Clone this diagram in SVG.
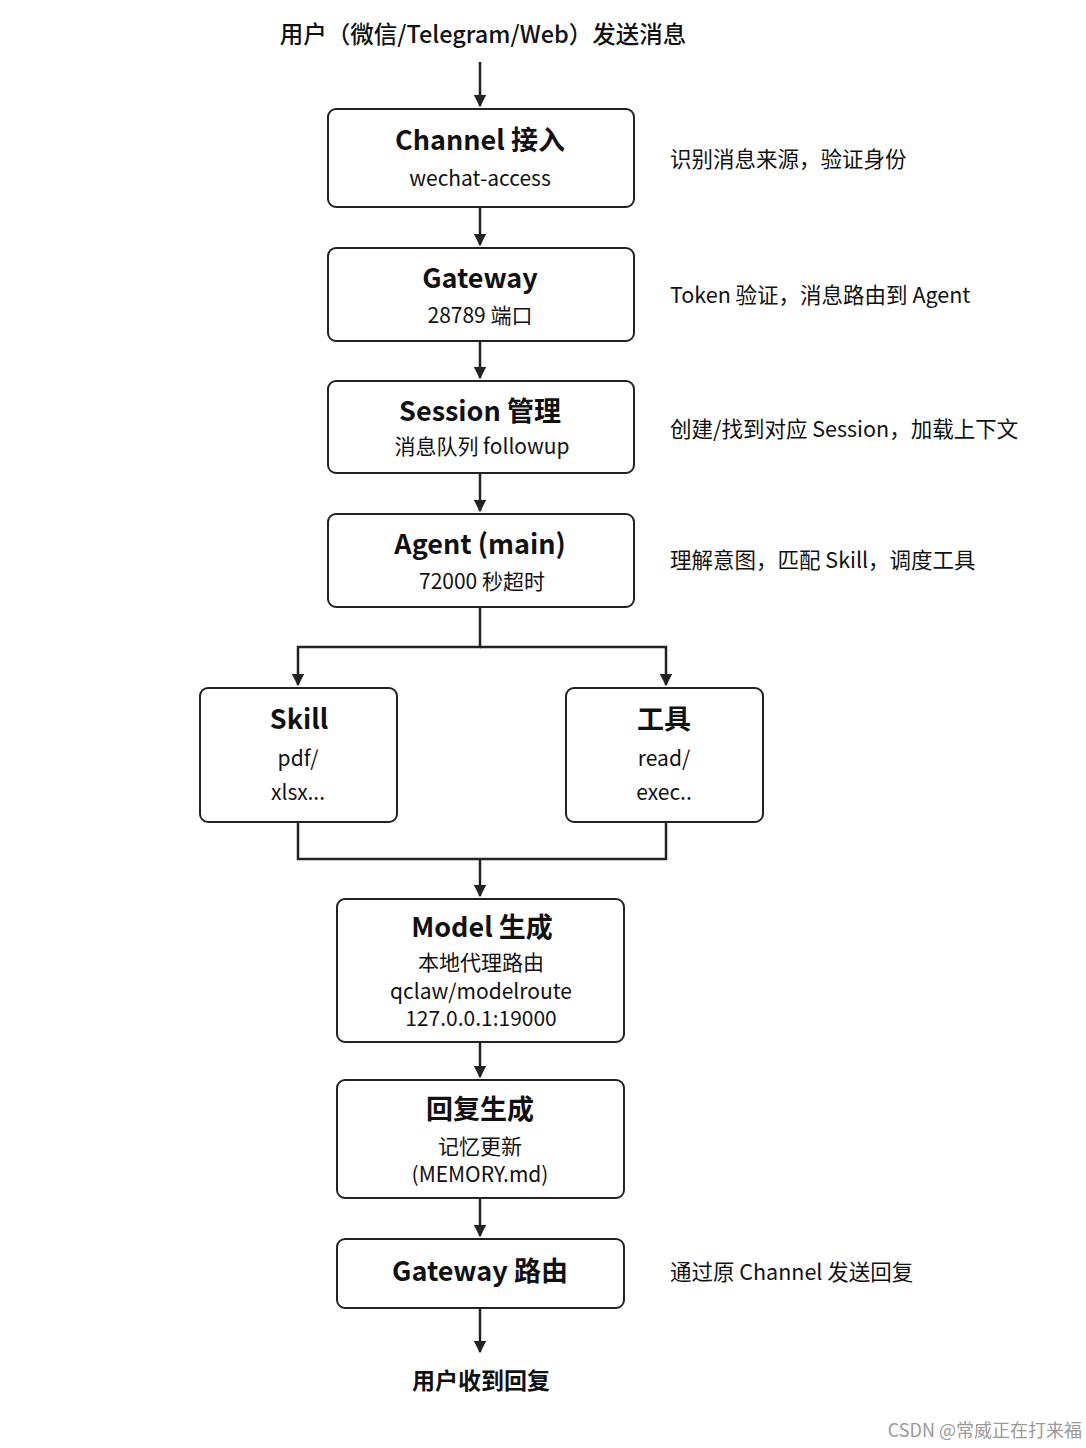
<svg xmlns="http://www.w3.org/2000/svg" width="1086" height="1448" viewBox="0 0 1086 1448">
<style>
text{font-family:"Noto Sans CJK SC","Noto Sans",sans-serif;fill:#111;text-anchor:middle;dominant-baseline:middle}
.t{font-size:27px;font-weight:bold}
.s{font-size:21px}
.n{font-size:21.5px;text-anchor:start}
.box{fill:#fff;stroke:#222;stroke-width:2}
.c{fill:none;stroke:#222;stroke-width:2.5}
</style>
<defs><marker id="a" viewBox="0 0 10 10" refX="9" refY="5" markerWidth="5" markerHeight="5" orient="auto"><path d="M0,0L10,5L0,10z" fill="#222"/></marker></defs>
<rect width="1086" height="1448" fill="#fff"/>
<text x="483" y="37" style="font-size:23.5px;font-weight:500">用户（微信/Telegram/Web）发送消息</text>
<g id="connectors">
<line class="c" x1="480" y1="62" x2="480" y2="106" marker-end="url(#a)"/>
<line class="c" x1="480" y1="207" x2="480" y2="245" marker-end="url(#a)"/>
<line class="c" x1="480" y1="341" x2="480" y2="378" marker-end="url(#a)"/>
<line class="c" x1="480" y1="473" x2="480" y2="511" marker-end="url(#a)"/>
<path class="c" d="M480,607V647H298V685"  marker-end="url(#a)"/>
<path class="c" d="M480,647H666V685" marker-end="url(#a)"/>
<path class="c" d="M298,822V859H666V822M480,859V896" marker-end="url(#a)"/>
<line class="c" x1="480" y1="1042" x2="480" y2="1077" marker-end="url(#a)"/>
<line class="c" x1="480" y1="1198" x2="480" y2="1236" marker-end="url(#a)"/>
<line class="c" x1="480" y1="1308" x2="480" y2="1352" marker-end="url(#a)"/>
</g>
<g id="channel"><rect class="box" x="328" y="109" width="306" height="98" rx="8"/><text class="t" x="480" y="143">Channel 接入</text><text class="s" x="480" y="180">wechat-access</text></g>
<g id="gateway"><rect class="box" x="328" y="248" width="306" height="93" rx="8"/><text class="t" x="480" y="281">Gateway</text><text class="s" x="480" y="317">28789 端口</text></g>
<g id="session"><rect class="box" x="328" y="381" width="306" height="92" rx="8"/><text class="t" x="480" y="414">Session 管理</text><text class="s" x="482" y="448">消息队列 followup</text></g>
<g id="agent"><rect class="box" x="328" y="514" width="306" height="93" rx="8"/><text class="t" x="480" y="547">Agent (main)</text><text class="s" x="482" y="583">72000 秒超时</text></g>
<g id="skill"><rect class="box" x="200" y="688" width="197" height="134" rx="8"/><text class="t" x="299" y="722">Skill</text><text class="s" x="298" y="760">pdf/</text><text class="s" x="298" y="794">xlsx...</text></g>
<g id="tools"><rect class="box" x="566" y="688" width="197" height="134" rx="8"/><text class="t" x="664" y="722">工具</text><text class="s" x="664" y="760">read/</text><text class="s" x="664" y="794">exec..</text></g>
<g id="model"><rect class="box" x="337" y="899" width="287" height="143" rx="8"/><text class="t" x="482" y="930">Model 生成</text><text class="s" x="481" y="964">本地代理路由</text><text class="s" x="481" y="993">qclaw/modelroute</text><text class="s" x="481" y="1020">127.0.0.1:19000</text></g>
<g id="reply"><rect class="box" x="337" y="1080" width="287" height="118" rx="8"/><text class="t" x="480" y="1112">回复生成</text><text class="s" x="480" y="1148">记忆更新</text><text class="s" x="480" y="1176">(MEMORY.md)</text></g>
<g id="gwroute"><rect class="box" x="337" y="1239" width="287" height="69" rx="8"/><text class="t" x="480" y="1274">Gateway 路由</text></g>
<text x="481" y="1383" style="font-size:23px;font-weight:bold">用户收到回复</text>
<g id="notes">
<text class="n" x="670" y="161">识别消息来源，验证身份</text>
<text class="n" x="670" y="297">Token 验证，消息路由到 Agent</text>
<text class="n" x="670" y="431">创建/找到对应 Session，加载上下文</text>
<text class="n" x="670" y="562">理解意图，匹配 Skill，调度工具</text>
<text class="n" x="670" y="1274">通过原 Channel 发送回复</text>
</g>
<text x="1082" y="1432" style="font-size:18px;fill:#999;text-anchor:end">CSDN @常威正在打来福</text>
</svg>
